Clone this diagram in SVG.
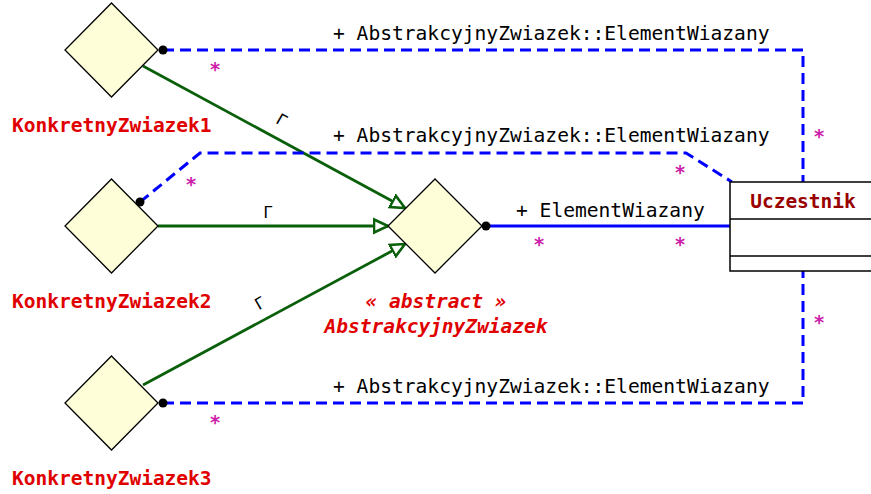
<svg xmlns="http://www.w3.org/2000/svg" width="871" height="494" viewBox="0 0 871 494">
<style>
.dia{fill:#fefed8;stroke:#000;stroke-width:1.3}
.t{font-family:"DejaVu Sans Mono",monospace;font-size:19.6px;fill:#000}
.nm{font-family:"DejaVu Sans Mono",monospace;font-size:19.5px;font-weight:bold;fill:#e00000}
.ab{font-family:"DejaVu Sans Mono",monospace;font-size:19.5px;font-weight:bold;font-style:italic;fill:#e00000}
.st{font-family:"DejaVu Sans Mono",monospace;font-size:19.5px;font-weight:bold;fill:#cc22aa}
.gm{font-family:"DejaVu Sans Mono",monospace;font-size:16px;fill:#000}
.gen{stroke:#0a5f0a;stroke-width:2.8;fill:none;marker-end:url(#tri)}
.dash{stroke:#0000ff;stroke-width:3;fill:none;stroke-dasharray:11,6}
.sol{stroke:#0000ff;stroke-width:3;fill:none}
.dot{fill:#000}
</style>
<defs>
<marker id="tri" markerUnits="userSpaceOnUse" viewBox="-15 -9 17 18" refX="0" refY="0" markerWidth="17" markerHeight="18" orient="auto">
<path d="M0,0 L-14,-6.5 L-14,6.5 Z" fill="#fff" stroke="#0a5f0a" stroke-width="2.6" stroke-linejoin="miter"/>
</marker>
</defs>
<g id="connectors">
<line class="gen" x1="143" y1="66" x2="405" y2="208"/>
<line class="gen" x1="158" y1="226" x2="388" y2="226"/>
<line class="gen" x1="143" y1="385" x2="405" y2="244"/>
<polyline class="dash" points="163,50 803,50 803,182"/>
<polyline class="dash" points="140,202 200,153 686,153 732,182"/>
<polyline class="dash" points="163,403 803,403 803,271"/>
<line class="sol" x1="486" y1="226" x2="730" y2="226"/>
<circle class="dot" cx="163" cy="50" r="4.5"/>
<circle class="dot" cx="140" cy="202" r="4.5"/>
<circle class="dot" cx="163" cy="403" r="4.5"/>
<circle class="dot" cx="486" cy="226" r="4.5"/>
<text class="gm" transform="translate(279,125) rotate(30)" text-anchor="middle">Γ</text>
<text class="gm" x="268" y="218" text-anchor="middle">Γ</text>
<text class="gm" transform="translate(263,308) rotate(-30)" text-anchor="middle">Γ</text>
<text class="t" x="333" y="40">+ AbstrakcyjnyZwiazek::ElementWiazany</text>
<text class="t" x="333" y="142">+ AbstrakcyjnyZwiazek::ElementWiazany</text>
<text class="t" x="333" y="393">+ AbstrakcyjnyZwiazek::ElementWiazany</text>
<text class="t" x="516" y="217">+ ElementWiazany</text>
<text class="st" x="215" y="76" text-anchor="middle">*</text>
<text class="st" x="191" y="191" text-anchor="middle">*</text>
<text class="st" x="215" y="429" text-anchor="middle">*</text>
<text class="st" x="539" y="251" text-anchor="middle">*</text>
<text class="st" x="680" y="251" text-anchor="middle">*</text>
<text class="st" x="680" y="179" text-anchor="middle">*</text>
<text class="st" x="819" y="143" text-anchor="middle">*</text>
<text class="st" x="819" y="329" text-anchor="middle">*</text>
</g>
<g id="KonkretnyZwiazek1">
<polygon class="dia" points="111.5,3 158,50 111.5,97 65,50"/>
<text class="nm" x="12" y="132">KonkretnyZwiazek1</text>
</g>
<g id="KonkretnyZwiazek2">
<polygon class="dia" points="111.5,179 158,226 111.5,273 65,226"/>
<text class="nm" x="12" y="308">KonkretnyZwiazek2</text>
</g>
<g id="KonkretnyZwiazek3">
<polygon class="dia" points="111.5,356 158,403 111.5,450 65,403"/>
<text class="nm" x="12" y="485">KonkretnyZwiazek3</text>
</g>
<g id="AbstrakcyjnyZwiazek">
<polygon class="dia" points="435,179 482,226 435,273 388,226"/>
<text class="ab" x="436" y="308" text-anchor="middle">« abstract »</text>
<text class="ab" x="436" y="333" text-anchor="middle">AbstrakcyjnyZwiazek</text>
</g>
<g id="Uczestnik">
<rect x="730" y="182" width="150" height="89" fill="#fff" stroke="#000" stroke-width="1.5"/>
<line x1="730" y1="219" x2="880" y2="219" stroke="#000" stroke-width="1.5"/>
<line x1="730" y1="256" x2="880" y2="256" stroke="#000" stroke-width="1.5"/>
<text class="nm" x="803" y="208" text-anchor="middle" style="fill:#990000">Uczestnik</text>
</g>
</svg>
